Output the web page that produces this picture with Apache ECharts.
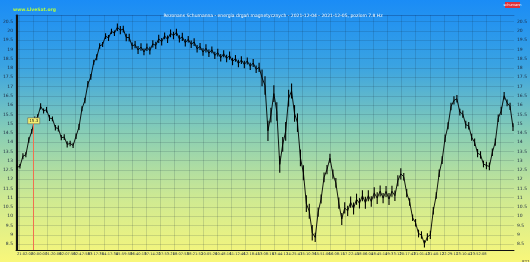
<!DOCTYPE html>
<html><head><meta charset="utf-8">
<script src="https://cdn.jsdelivr.net/npm/echarts@6/dist/echarts.min.js"></script>
<style>html,body{margin:0;padding:0;}#c{width:530px;height:262px;}</style>
</head><body><div id="c"></div>
<script>
// sample values (one reading every ~3 px across the plot)
const values = [12.64,12.70,13.24,13.32,14.12,14.58,15.22,15.36,15.93,15.68,15.75,15.30,15.26,14.78,14.74,14.24,14.27,13.88,13.93,13.82,
14.32,14.82,15.80,16.25,17.13,17.52,18.31,18.58,19.19,19.27,19.72,19.62,19.98,19.88,20.20,20.04,20.10,19.65,19.64,19.19,
19.26,18.97,19.13,18.87,19.12,18.94,19.30,19.22,19.57,19.42,19.73,19.55,19.87,19.75,19.93,19.57,19.68,19.36,19.55,19.28,
19.40,19.04,19.16,18.86,19.06,18.80,18.98,18.68,18.83,18.55,18.77,18.51,18.67,18.35,18.52,18.24,18.43,18.19,18.38,18.09,
18.27,17.93,18.03,17.47,17.06,14.61,15.46,16.62,15.65,12.80,13.88,14.58,16.37,16.76,15.55,15.05,13.15,12.35,10.68,10.27,
9.11,8.86,10.22,10.93,12.10,12.52,13.13,12.28,11.80,10.71,9.85,10.45,10.29,10.76,10.42,10.92,10.70,11.11,10.73,11.11,
10.80,11.26,10.98,11.36,10.98,11.34,10.93,11.35,11.11,11.92,12.29,12.13,11.25,10.77,9.92,9.65,9.07,8.99,8.51,8.88,
9.00,10.30,11.12,12.32,13.03,14.21,14.88,15.92,16.25,16.34,15.62,15.51,14.94,14.88,14.26,13.99,13.41,13.31,12.82,12.74,
12.69,13.45,14.00,15.29,15.69,16.50,16.12,15.93,14.81];
// half-thickness of the noise band read at each sample
const spread = [0.15,0.12,0.16,0.14,0.15,0.13,0.16,0.15,0.17,0.14,0.15,0.16,0.13,0.15,0.16,0.14,0.15,0.17,0.15,0.13,
0.15,0.16,0.14,0.15,0.17,0.15,0.14,0.16,0.15,0.13,0.15,0.16,0.14,0.15,0.2,0.22,0.18,0.2,0.21,0.19,
0.2,0.22,0.2,0.18,0.2,0.21,0.2,0.19,0.22,0.2,0.18,0.2,0.21,0.2,0.19,0.2,0.22,0.2,0.18,0.2,
0.21,0.2,0.19,0.2,0.22,0.2,0.18,0.2,0.21,0.2,0.19,0.2,0.22,0.2,0.18,0.2,0.21,0.2,0.19,0.2,
0.22,0.2,0.25,0.45,0.5,0.55,0.4,0.45,0.5,0.45,0.4,0.5,0.45,0.4,0.45,0.5,0.45,0.4,0.45,0.4,
0.42,0.25,0.25,0.24,0.26,0.25,0.24,0.25,0.26,0.3,0.32,0.3,0.28,0.3,0.32,0.3,0.28,0.3,0.32,0.3,
0.28,0.3,0.32,0.3,0.28,0.3,0.32,0.3,0.28,0.3,0.3,0.2,0.22,0.2,0.18,0.2,0.21,0.2,0.19,0.2,
0.22,0.2,0.18,0.2,0.21,0.2,0.19,0.2,0.22,0.2,0.18,0.2,0.21,0.2,0.19,0.2,0.22,0.2,0.18,0.2,
0.21,0.2,0.19,0.2,0.22,0.2,0.18,0.2,0.21];
const yTicks = [8.5,9,9.5,10,10.5,11,11.5,12,12.5,13,13.5,14,14.5,15,15.5,16,16.5,17,17.5,18,18.5,19,19.5,20,20.5];
const xTickLabels = ['21-12-04','21:02:07','00:00:07','01:20:08','02:07:58','02:47:58','03:17:35','04:17:34','05:59:53','06:40:13','07:14:22','07:53:21','08:07:53','08:21:52','10:05:26','10:48:16','11:12:46','12:18:45','13:08:16','13:44:17','14:25:47','15:10:36','15:51:06','16:08:15','17:22:45','18:06:04','18:45:14','19:33:12','20:17:43','21:01:43','21:40:12','22:29:11','23:10:41','23:52:08','00:31:40'];
const xTickPos = xTickLabels.map((_, i) => i + 0.2);
const cursorIndex = 5.67, cursorValue = 15.15, cursorText = '15.3';
const titleText = 'Rezonans Schumanna - energia drgań magnetycznych - 2021-12-04 - 2021-12-05, poziom 7.8 Hz';
const siteText = 'www.LiveSat.org';
const badgeText = 'schumann';
const footText = '8212';

const chart = echarts.init(document.getElementById('c'), null, {renderer: 'canvas'});
const yMin = 8.18, yMax = 20.86;
const small = {fontFamily: 'DejaVu Sans', fontSize: 4.5, color: '#1d2a40'};
chart.setOption({
  animation: false,
  backgroundColor: new echarts.graphic.LinearGradient(0, 0, 0, 1, [
    {offset: 0, color: '#1a8cf6'}, {offset: 0.25, color: '#3aa3e2'},
    {offset: 0.5, color: '#86cdb6'}, {offset: 0.75, color: '#cde993'}, {offset: 1, color: '#f9f77a'}]),
  title: [
    {text: titleText, left: 268, top: 8, textAlign: 'center', textStyle: {fontFamily: 'DejaVu Sans', fontSize: 4.5, color: '#ffffff', fontWeight: 'normal'}},
    {text: siteText, left: 8, top: 2, textStyle: {fontFamily: 'DejaVu Sans', fontSize: 4.5, color: '#b8ff3a', fontWeight: 'bold'}},
    {text: footText, left: 517, top: 255, textStyle: {fontFamily: 'DejaVu Sans', fontSize: 4, color: '#333', fontWeight: 'normal'}}
  ],
  graphic: [{type: 'rect', shape: {x: 505, y: 2, width: 15, height: 6}, style: {fill: '#e0303a'}},
    {type: 'text', x: 512.5, y: 5, style: {text: badgeText, fontSize: 3.5, fill: '#fff', align: 'center', verticalAlign: 'middle', fontFamily: 'DejaVu Sans'}}],
  grid: {left: 9, right: 15, top: 15, bottom: 12},
  xAxis: [
    {type: 'value', min: -0.333, max: values.length - 1 + 0.333, show: false},
    {type: 'value', min: 0, max: 35.14, position: 'bottom',
      axisLine: {show: true, lineStyle: {color: '#111', width: 1}}, axisTick: {show: false, customValues: xTickPos},
      axisLabel: {customValues: xTickPos, formatter: (v) => xTickLabels[Math.round(v - 0.2)], align: 'right', margin: 2, fontFamily: 'DejaVu Sans', fontSize: 3.6, color: '#1d2a40'},
      splitLine: {show: true, lineStyle: {color: 'rgba(20,40,60,0.25)', width: 0.6}}},
    {type: 'value', min: 0, max: 1, position: 'top', axisLine: {show: true, lineStyle: {color: 'rgba(10,30,80,0.5)', width: 0.6}}, axisTick: {show: false}, axisLabel: {show: false}, splitLine: {show: false}}
  ],
  yAxis: [
    {type: 'value', min: yMin, max: yMax, position: 'left',
      axisLine: {show: true, lineStyle: {color: '#111', width: 1.2}}, axisTick: {show: false, customValues: yTicks},
      axisLabel: Object.assign({customValues: yTicks, margin: 3}, small),
      splitLine: {show: true, lineStyle: {color: 'rgba(20,40,60,0.25)', width: 0.6}}},
    {type: 'value', min: yMin, max: yMax, position: 'right',
      axisLine: {show: true, lineStyle: {color: '#111', width: 1.2}}, axisTick: {show: false, customValues: yTicks},
      axisLabel: Object.assign({customValues: yTicks, margin: 3}, small), splitLine: {show: false}}
  ],
  series: [{
    type: 'custom', xAxisIndex: 0, yAxisIndex: 0, silent: true,
    data: values.map((v, i) => [i, v, spread[i]]),
    renderItem: function (params, api) {
      const i = api.value(0), v = api.value(1), s = api.value(2);
      const a = api.coord([i, v + s]), b = api.coord([i, v - s]);
      return {type: 'line', shape: {x1: a[0], y1: a[1], x2: b[0], y2: b[1]}, style: {stroke: '#000', lineWidth: 1.1}};
    }
  }, {
    type: 'line', xAxisIndex: 0, yAxisIndex: 0,
    data: values.map((v, i) => [i, v]),
    showSymbol: false, symbol: 'none',
    lineStyle: {color: '#000', width: 0.9},
    markLine: {silent: true, symbol: 'none', label: {show: false},
      lineStyle: {color: '#f07050', width: 1, type: 'solid'},
      data: [[{coord: [cursorIndex, cursorValue]}, {coord: [cursorIndex, yMin]}]]},
    markPoint: {silent: true, symbol: 'rect', symbolSize: [12, 6],
      itemStyle: {color: '#f5f070', borderColor: '#555', borderWidth: 0.5},
      label: {show: true, formatter: cursorText, fontSize: 4, color: '#222', fontFamily: 'DejaVu Sans'},
      data: [{coord: [cursorIndex, cursorValue]}]}
  }]
});
</script></body></html>
